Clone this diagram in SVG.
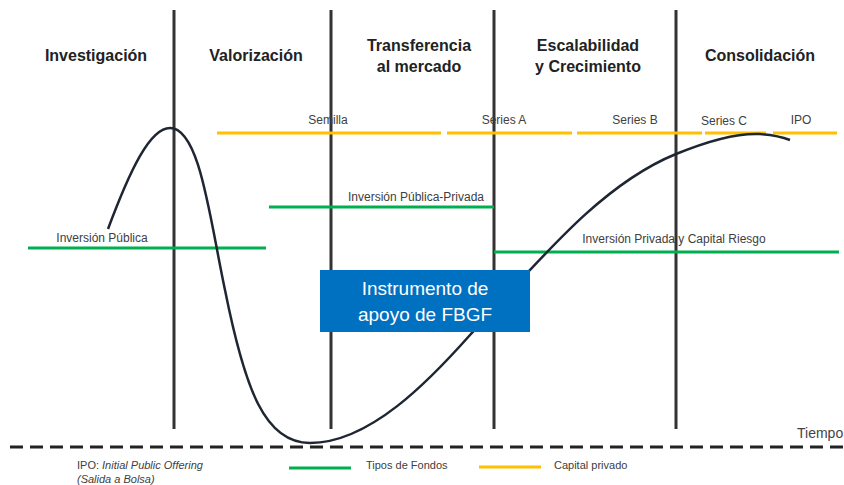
<svg xmlns="http://www.w3.org/2000/svg" width="844" height="485" viewBox="0 0 844 485">
<style>
.hdr{font-family:"Liberation Sans",Arial,sans-serif;font-size:16px;font-weight:bold;fill:#222;text-anchor:middle}
.lbl{font-family:"Liberation Sans",Arial,sans-serif;font-size:12px;fill:#404040;text-anchor:middle}
.leg{font-family:"Liberation Sans",Arial,sans-serif;font-size:11px;fill:#404040}
.box{font-family:"Liberation Sans",Arial,sans-serif;font-size:19px;fill:#fff;text-anchor:middle}
.vl{stroke:#333;stroke-width:3}
.yl{stroke:#FFC000;stroke-width:3}
.gl{stroke:#00B050;stroke-width:3}
</style>
<rect width="844" height="485" fill="#fff"/>
<g id="phases">
<line class="vl" x1="174" y1="10" x2="174" y2="429"/>
<line class="vl" x1="331" y1="10" x2="331" y2="429"/>
<line class="vl" x1="494" y1="10" x2="494" y2="429"/>
<line class="vl" x1="676" y1="10" x2="676" y2="429"/>
<text class="hdr" x="96" y="61">Investigación</text>
<text class="hdr" x="256" y="61">Valorización</text>
<text class="hdr" x="419" y="51">Transferencia</text>
<text class="hdr" x="419" y="72">al mercado</text>
<text class="hdr" x="588" y="51">Escalabilidad</text>
<text class="hdr" x="588" y="72">y Crecimiento</text>
<text class="hdr" x="760" y="61">Consolidación</text>
</g>
<g id="axis">
<line x1="10" y1="447" x2="844" y2="447" stroke="#222" stroke-width="3" stroke-dasharray="13,7"/>
<text x="797" y="438" style="font-family:'Liberation Sans',Arial,sans-serif;font-size:14px;fill:#444">Tiempo</text>
</g>
<g id="capital-privado">
<line class="yl" x1="217" y1="133" x2="441" y2="133"/>
<line class="yl" x1="447" y1="133" x2="572" y2="133"/>
<line class="yl" x1="577" y1="133" x2="702" y2="133"/>
<line class="yl" x1="705" y1="133" x2="766" y2="133"/>
<line class="yl" x1="773" y1="133" x2="837" y2="133"/>
<text class="lbl" x="328" y="124">Semilla</text>
<text class="lbl" x="504" y="124">Series A</text>
<text class="lbl" x="635" y="124">Series B</text>
<text class="lbl" x="724" y="125">Series C</text>
<text class="lbl" x="801" y="124">IPO</text>
</g>
<g id="fondos">
<line class="gl" x1="28" y1="248" x2="266" y2="248"/>
<text class="lbl" x="102" y="242">Inversión Pública</text>
<line class="gl" x1="269" y1="207" x2="494" y2="207"/>
<text class="lbl" x="416" y="201">Inversión Pública-Privada</text>
<line class="gl" x1="494" y1="252" x2="839" y2="252"/>
<text class="lbl" x="674" y="243">Inversión Privada y Capital Riesgo</text>
</g>
<g id="curve">
<path d="M108,229 C130,170 150,128 170,128 C200,128 210,220 225,290 C245,390 265,443 310,443 C370,443 430,380 470,335 C540,260 600,185 676,154 C710,140 740,133 760,134 C775,135 785,138 790,140" fill="none" stroke="#1f2633" stroke-width="2.5"/>
</g>
<g id="instrumento">
<rect x="320" y="270" width="210" height="62" fill="#0070C0"/>
<text class="box" x="425" y="295">Instrumento de</text>
<text class="box" x="425" y="321">apoyo de FBGF</text>
</g>
<g id="legend">
<text class="leg" x="77" y="469">IPO: <tspan font-style="italic">Initial Public Offering</tspan></text>
<text class="leg" x="77" y="483" font-style="italic">(Salida a Bolsa)</text>
<line class="gl" x1="289" y1="468" x2="351" y2="468"/>
<text class="leg" x="366" y="469">Tipos de Fondos</text>
<line class="yl" x1="479" y1="467" x2="541" y2="467"/>
<text class="leg" x="554" y="469">Capital privado</text>
</g>
</svg>
